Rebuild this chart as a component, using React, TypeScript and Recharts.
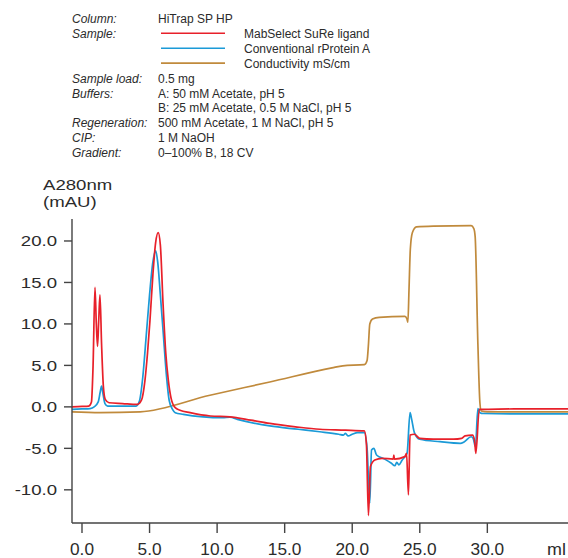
import { Line, LineChart, XAxis, YAxis } from 'recharts'

const FONT = '"Liberation Sans", Arial, Helvetica, sans-serif'
const INK = '#2b2b2b'
const AXIS = '#444'

const X_TICKS = [0, 5, 10, 15, 20, 25, 30]
const Y_TICKS = [-10, -5, 0, 5, 10, 15, 20]

// [ml, mAU]
const mabSelectSuRe: [number, number][] = [
  [-0.74, 0.0], [0.0, 0.05], [0.5, 0.1], [0.7, 0.6], [0.82, 5], [0.96, 14.4], [1.06, 10], [1.15, 7.3],
  [1.24, 10.5], [1.33, 13.5], [1.45, 7.5], [1.58, 2.5], [1.72, 0.9], [2.0, 0.5], [3.0, 0.4], [4.1, 0.3],
  [4.4, 0.8], [4.66, 3.2], [4.85, 6.5], [5.03, 10.4], [5.25, 16], [5.45, 19.8], [5.64, 21.0], [5.8, 19.5],
  [6.0, 12.4], [6.2, 6.5], [6.39, 3.2], [6.6, 1.0], [6.9, -0.1], [7.25, -0.4], [8.0, -0.7], [9.5, -1.1],
  [10.95, -1.2], [12.5, -1.6], [13.9, -2.0], [15.8, -2.4], [17.6, -2.7], [19.5, -2.8], [20.9, -2.9],
  [21.05, -4.5], [21.2, -13.1], [21.35, -7.2], [21.67, -6.4], [22.2, -6.2], [23.04, -6.3], [23.08, -5.8],
  [23.12, -6.3], [23.9, -6.0], [24.02, -5.6], [24.16, -10.6], [24.28, -3.4], [24.6, -3.3], [25.0, -3.8],
  [26.0, -3.9], [27.5, -3.9], [28.1, -3.8], [28.35, -3.5], [28.9, -3.4], [29.05, -4.0], [29.15, -5.6],
  [29.4, -0.3], [29.6, -0.3], [32, -0.25], [35.97, -0.25],
]

const rProteinA: [number, number][] = [
  [-0.74, -0.3], [0.0, -0.25], [0.6, -0.2], [0.9, 0.0], [1.2, 0.6], [1.35, 1.8], [1.45, 2.5], [1.55, 1.6],
  [1.7, 0.4], [1.9, 0.1], [3.0, 0.1], [4.0, 0.1], [4.25, 0.7], [4.5, 3.6], [4.75, 8.5], [5.0, 13.5],
  [5.25, 17.5], [5.45, 18.8], [5.6, 17.5], [5.8, 13.5], [6.0, 9.2], [6.26, 3.6], [6.45, 0.8], [6.7, -0.3],
  [6.9, -0.7], [7.5, -0.9], [8.97, -1.2], [10.4, -1.3], [10.95, -1.25], [11.5, -1.5], [13.9, -2.3],
  [16.0, -2.7], [17.6, -3.0], [19.0, -3.3], [19.35, -3.4], [19.5, -3.2], [19.7, -3.5], [20.0, -3.3],
  [20.4, -3.1], [20.9, -3.1], [21.1, -5], [21.3, -11.6], [21.43, -5.2], [21.6, -5.0], [21.8, -5.8],
  [22.4, -6.3], [22.9, -6.8], [23.15, -7.1], [23.3, -6.7], [23.45, -7.0], [23.7, -6.4], [23.9, -6.0],
  [24.06, -5.6], [24.28, -0.7], [24.4, -1.5], [24.6, -3.1], [25.0, -3.9], [26.5, -4.2], [28.0, -4.4],
  [28.3, -4.2], [28.8, -3.6], [28.95, -3.8], [29.12, -4.8], [29.3, -0.2], [29.45, -0.7], [29.7, -0.8],
  [32, -0.85], [35.97, -0.85],
]

const conductivity: [number, number][] = [
  [-0.74, -0.6], [1.33, -0.7], [4.3, -0.6], [9.47, 1.4], [13.9, 3.0], [18.5, 4.7], [19.3, 4.95],
  [20.9, 5.1], [21.1, 5.6], [21.2, 7.5], [21.3, 10.0], [21.5, 10.6], [22.0, 10.8], [23.9, 10.9],
  [24.05, 10.6], [24.12, 10.2], [24.2, 14], [24.3, 19], [24.45, 21.0], [24.75, 21.7], [26.0, 21.8],
  [28.8, 21.85], [29.0, 21.5], [29.1, 20.5], [29.3, 7.6], [29.45, 0.5], [29.55, -0.5], [30.0, -0.6],
  [35.97, -0.6],
]

const HEADER_LABELS = ['Column:', 'Sample:', '', '', 'Sample load:', 'Buffers:', '', 'Regeneration:', 'CIP:', 'Gradient:']
const HEADER_VALUES = [
  'HiTrap SP HP', '', '', '', '0.5 mg', 'A: 50 mM Acetate, pH 5', 'B: 25 mM Acetate, 0.5 M NaCl, pH 5',
  '500 mM Acetate, 1 M NaCl, pH 5', '1 M NaOH', '0\u2013100% B, 18 CV',
]
const LEGEND_NAMES = ['MabSelect SuRe ligand', 'Conventional rProtein A', 'Conductivity mS/cm']
const LEGEND_COLORS = ['#e8202a', '#1b9ad7', '#c08a3c']

const toPoints = (arr: [number, number][]) => arr.map(([x, y]) => ({ x, y }))

function YTick(props: any) {
  const { x, y, payload } = props
  return (
    <g transform={`translate(${x},${y}) scale(1.24,1)`}>
      <text x={0} y={0} dy={5.3} textAnchor="end" fill={INK} fontSize={15} fontFamily={FONT}>
        {Number(payload.value).toFixed(1)}
      </text>
    </g>
  )
}

function XTick(props: any) {
  const { x, y, payload } = props
  return (
    <g transform={`translate(${x},${y}) scale(1.06,1)`}>
      <text x={0} y={0} dy={10.5} textAnchor="middle" fill={INK} fontSize={16.3} fontFamily={FONT}>
        {Number(payload.value).toFixed(1)}
      </text>
    </g>
  )
}

export default function App() {
  const rowY = (i: number) => 23 + i * 14.9
  return (
    <div style={{ position: 'absolute', left: 0, top: 0, width: 568, height: 558, background: '#fff' }}>
      <LineChart width={568} height={558} margin={{ top: 219, right: 0, bottom: 0, left: 0 }}>
        <XAxis
          dataKey="x"
          type="number"
          domain={[-0.74, 35.97]}
          ticks={X_TICKS}
          allowDataOverflow
          height={35}
          tickSize={10}
          tickMargin={11}
          stroke={AXIS}
          strokeWidth={1.4}
          tick={<XTick />}
        />
        <YAxis
          type="number"
          domain={[-14, 22.65]}
          ticks={Y_TICKS}
          allowDataOverflow
          width={72}
          tickSize={8}
          tickMargin={7}
          stroke={AXIS}
          strokeWidth={1.4}
          tick={<YTick />}
        />
        <Line data={toPoints(conductivity)} dataKey="y" type="monotone" stroke={LEGEND_COLORS[2]} strokeWidth={1.7} dot={false} activeDot={false} isAnimationActive={false} />
        <Line data={toPoints(rProteinA)} dataKey="y" type="monotone" stroke={LEGEND_COLORS[1]} strokeWidth={1.7} dot={false} activeDot={false} isAnimationActive={false} />
        <Line data={toPoints(mabSelectSuRe)} dataKey="y" type="monotone" stroke={LEGEND_COLORS[0]} strokeWidth={1.7} dot={false} activeDot={false} isAnimationActive={false} />
      </LineChart>
      <svg width={568} height={558} style={{ position: 'absolute', left: 0, top: 0, pointerEvents: 'none' }}>
        <g fontFamily={FONT} fontSize={12} fill={INK}>
          {HEADER_LABELS.map((t, i) => t && (
            <text key={`l${i}`} x={72} y={rowY(i)} fontStyle="italic">{t}</text>
          ))}
          {HEADER_VALUES.map((t, i) => t && (
            <text key={`v${i}`} x={158} y={rowY(i)}>{t}</text>
          ))}
          {LEGEND_NAMES.map((t, i) => (
            <g key={`g${i}`}>
              <line x1={161} x2={225} y1={rowY(i + 1) - 4.6} y2={rowY(i + 1) - 4.6} stroke={LEGEND_COLORS[i]} strokeWidth={1.6} />
              <text x={244} y={rowY(i + 1)}>{t}</text>
            </g>
          ))}
        </g>
        <g transform="translate(43,189.5) scale(1.2,1)">
          <text x={0} y={0} fontFamily={FONT} fontSize={15.5} fill={INK}>A280nm</text>
          <text x={0} y={18} fontFamily={FONT} fontSize={15.5} fill={INK}>(mAU)</text>
        </g>
        <g transform="translate(547,554.5) scale(1.1,1)">
          <text x={0} y={0} fontFamily={FONT} fontSize={16.3} fill={INK}>ml</text>
        </g>
      </svg>
    </div>
  )
}
